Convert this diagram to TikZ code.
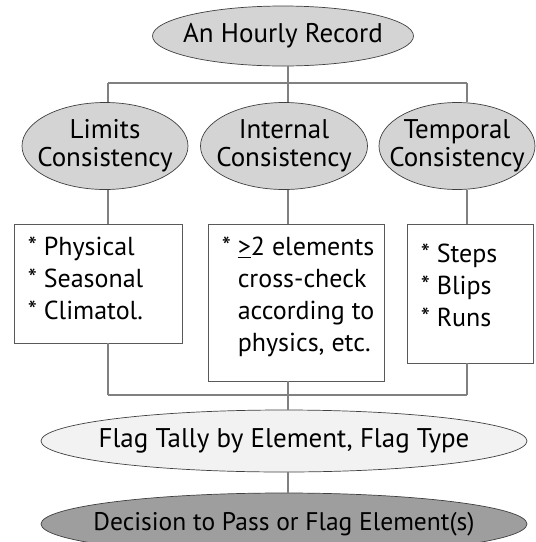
\documentclass[tikz,border=0pt]{standalone}
\usepackage{fontspec}
\setmainfont{PT Sans}
\usetikzlibrary{shapes.geometric}

\begin{document}
\begin{tikzpicture}[x=1pt, y=-1pt,
	conn/.style={draw=black!50, line width=1.1pt},
	oval/.style={ellipse, draw=black!75, line width=0.7pt, fill=black!17, inner xsep=-20pt, inner ysep=0pt, align=center, font=\fontsize{27}{28}\selectfont},
	frame/.style={rectangle, draw=black!65, line width=0.9pt, inner sep=0pt},
	items/.style={align=left, inner sep=0pt, anchor=north west, font=\fontsize{26}{32}\selectfont}]

\useasboundingbox (0,0) rectangle (536,542);

% bus points
\coordinate (tl) at (108,83);
\coordinate (tm) at (288,83);
\coordinate (tr) at (467,83);
\coordinate (bl) at (108,395);
\coordinate (bm) at (288,395);
\coordinate (br) at (467,395);

% ovals
\node[oval, minimum width=261, minimum height=60] (rec) at (283,36) {An Hourly Record};
\node[oval, minimum width=166, minimum height=87] (lim) at (105,146) {Limits\\Consistency};
\node[oval, minimum width=167, minimum height=87] (int) at (284,146) {Internal\\Consistency};
\node[oval, minimum width=156, minimum height=87] (tmp) at (457,146) {Temporal\\Consistency};
\node[oval, minimum width=486, minimum height=62, fill=black!5] (tally) at (284,441) {Flag Tally by Element, Flag Type};
\node[oval, minimum width=486, minimum height=62, fill=black!38, font=\fontsize{25.5}{28}\selectfont] (dec) at (284,524) {Decision to Pass or Flag Element(s)};

% boxes
\node[frame, minimum width=168, minimum height=119] (box1) at (98,283.5) {};
\node[frame, minimum width=176, minimum height=157] (box2) at (296,302.5) {};
\node[frame, minimum width=126, minimum height=139] (box3) at (470,293.5) {};

\node[items] (txt1) at ([shift={(14,13)}]box1.north west) {* Physical\\* Seasonal\\* Climatol.};
\node[items] (txt2) at ([shift={(14,13)}]box2.north west) {* \underline{>}2 elements\\\hspace*{16pt}cross-check\\\hspace*{16pt}according to\\\hspace*{16pt}physics, etc.};
\node[items] (txt3) at ([shift={(14,20)}]box3.north west) {* Steps\\* Blips\\* Runs};

% connectors
\draw[conn] (tm |- rec.south) -- (tm);
\draw[conn] (tl) -- (tr);
\draw[conn] (tl) -- (tl |- lim.north);
\draw[conn] (tm) -- (tm |- int.north);
\draw[conn] (tr) -- (tr |- tmp.north);
\draw[conn] (tl |- lim.south) -- (tl |- box1.north);
\draw[conn] (tm |- int.south) -- (tm |- box2.north);
\draw[conn] (tr |- tmp.south) -- (tr |- box3.north);
\draw[conn] (bl |- box1.south) -- (bl);
\draw[conn] (br |- box3.south) -- (br);
\draw[conn] (bl) -- (br);
\draw[conn] (bm |- box2.south) -- (bm |- tally.north);
\draw[conn] (bm |- tally.south) -- (bm |- dec.north);

\end{tikzpicture}
\end{document}
